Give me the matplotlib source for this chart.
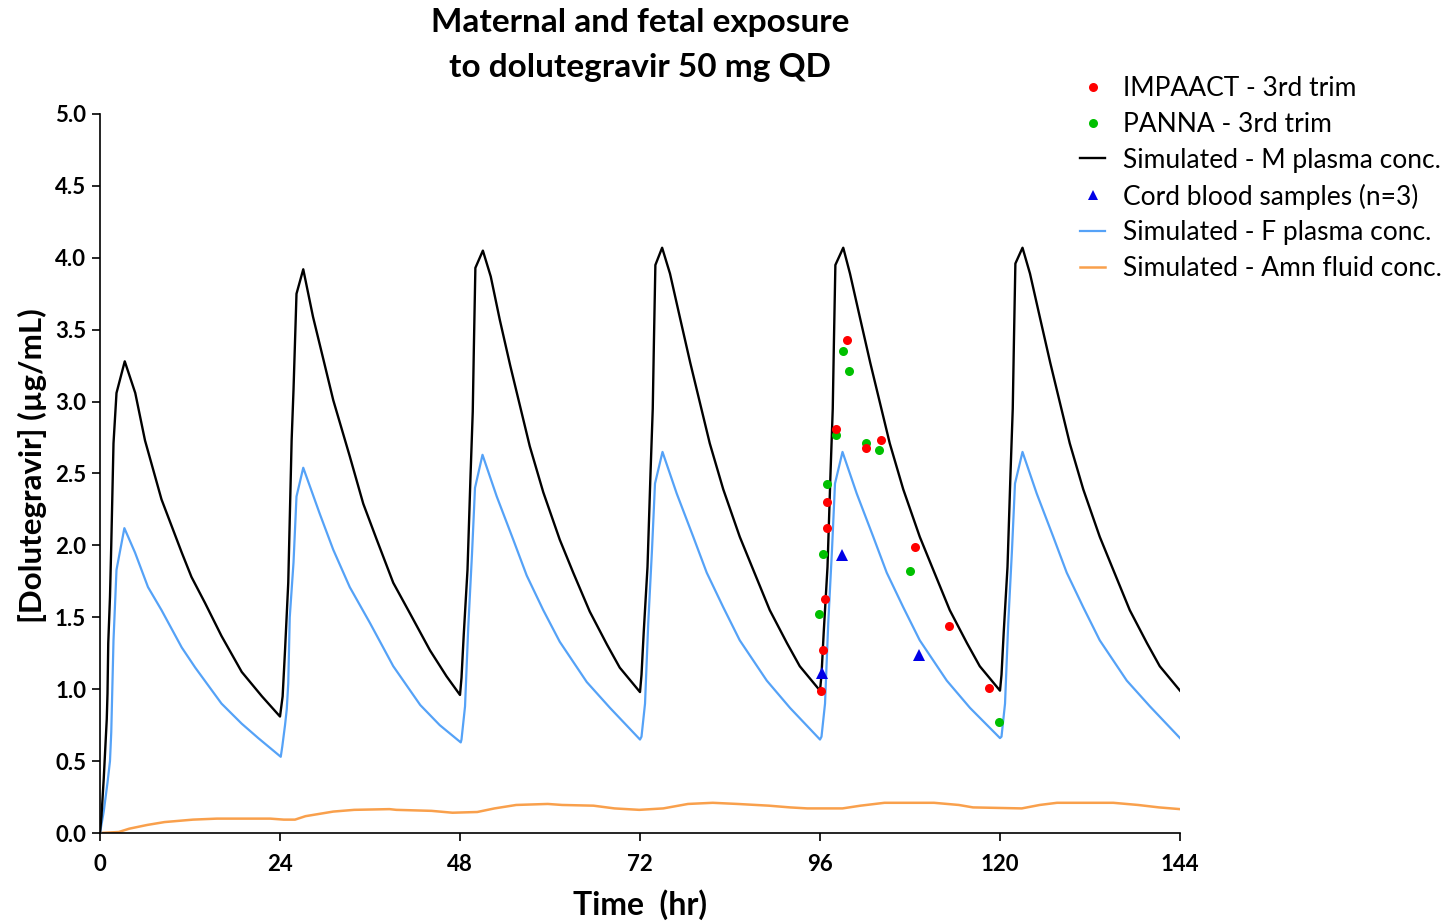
import matplotlib
matplotlib.use("Agg")
import matplotlib.pyplot as plt
from matplotlib.lines import Line2D

plt.rcParams['font.family'] = ['Lato', 'DejaVu Sans']

# ---------------- data ----------------
m_time = [0, 0.2, 0.5, 0.9, 1.0, 1.1, 1.33, 1.5, 1.8, 2.2, 3.3, 4.7, 6.0, 8.2, 10.9, 12.2, 14.0, 16.2, 18.9, 21.6, 24.0,
          24.35, 24.67, 25.1, 25.55, 25.8, 26.2, 27.1, 28.4, 29.8, 31.1, 33.3, 35.1, 36.9, 39.1, 41.3, 44.0, 46.2, 48.0,
          48.2, 48.5, 49.0, 49.4, 49.7, 49.85, 50.05, 51.05, 52.1, 53.3, 54.7, 56.0, 57.3, 59.1, 61.3, 63.1, 65.3, 67.6, 69.3, 72.0,
          72.2, 72.5, 73.0, 73.4, 73.7, 73.85, 74.05, 74.95, 76.0, 77.3, 78.7, 80.0, 81.3, 83.1, 85.3, 87.1, 89.3, 91.6, 93.3, 96.0,
          96.2, 96.5, 97.0, 97.4, 97.7, 97.85, 98.05, 99.1, 100.0, 101.3, 102.7, 104.0, 105.3, 107.1, 109.3, 111.1, 113.3, 115.6, 117.3, 120.0,
          120.2, 120.5, 121.0, 121.4, 121.7, 121.85, 122.05, 123.0, 124.0, 125.3, 126.7, 128.0, 129.3, 131.1, 133.3, 135.1, 137.3, 139.6, 141.3, 144.0]
m_conc = [0, 0.12, 0.38, 0.79, 0.97, 1.32, 1.64, 2.00, 2.71, 3.06, 3.28, 3.06, 2.73, 2.32, 1.95, 1.78, 1.60, 1.37, 1.12, 0.95, 0.81,
          0.95, 1.27, 1.74, 2.73, 3.08, 3.75, 3.92, 3.59, 3.29, 3.01, 2.62, 2.29, 2.04, 1.74, 1.53, 1.27, 1.09, 0.96,
          1.08, 1.38, 1.83, 2.48, 2.93, 3.38, 3.93, 4.05, 3.87, 3.57, 3.25, 2.97, 2.69, 2.37, 2.04, 1.81, 1.54, 1.31, 1.15, 0.98,
          1.10, 1.40, 1.85, 2.50, 2.95, 3.40, 3.95, 4.07, 3.89, 3.59, 3.27, 2.99, 2.71, 2.39, 2.06, 1.83, 1.55, 1.32, 1.16, 0.99,
          1.10, 1.40, 1.85, 2.50, 2.95, 3.40, 3.95, 4.07, 3.89, 3.59, 3.27, 2.99, 2.71, 2.39, 2.06, 1.83, 1.55, 1.32, 1.16, 0.99,
          1.10, 1.40, 1.85, 2.50, 2.95, 3.40, 3.96, 4.07, 3.89, 3.59, 3.27, 2.99, 2.71, 2.39, 2.06, 1.83, 1.55, 1.32, 1.16, 0.99]

f_time = [0, 0.5, 1.0, 1.33, 1.5, 1.8, 2.2, 3.25, 4.67, 6.4, 8.2, 10.9, 12.7, 16.2, 18.9, 21.1, 24.1,
          24.3, 24.67, 24.9, 25.1, 25.3, 25.8, 26.2, 27.1, 29.3, 31.1, 33.3, 36.0, 39.1, 42.7, 45.3, 48.1,
          48.2, 48.67, 49.1, 49.6, 50.0, 51.0, 52.9, 55.1, 56.9, 59.1, 61.3, 64.9, 68.0, 72.0,
          72.2, 72.67, 73.1, 73.6, 74.0, 75.0, 76.9, 79.1, 80.9, 83.1, 85.3, 88.9, 92.0, 96.0,
          96.2, 96.67, 97.1, 97.6, 98.0, 99.0, 100.9, 103.1, 104.9, 107.1, 109.3, 112.9, 116.0, 120.0,
          120.2, 120.67, 121.1, 121.6, 122.0, 123.0, 124.9, 127.1, 128.9, 131.1, 133.3, 136.9, 140.0, 144.0]
f_conc = [0, 0.15, 0.35, 0.50, 0.70, 1.34, 1.83, 2.12, 1.95, 1.71, 1.55, 1.29, 1.15, 0.90, 0.76, 0.66, 0.53,
          0.60, 0.75, 0.86, 1.04, 1.50, 1.88, 2.34, 2.54, 2.22, 1.97, 1.71, 1.46, 1.16, 0.89, 0.75, 0.63,
          0.65, 0.88, 1.43, 1.94, 2.40, 2.63, 2.34, 2.04, 1.79, 1.55, 1.33, 1.05, 0.87, 0.65,
          0.67, 0.90, 1.46, 1.97, 2.43, 2.65, 2.36, 2.06, 1.81, 1.57, 1.34, 1.06, 0.87, 0.65,
          0.67, 0.90, 1.46, 1.97, 2.43, 2.65, 2.36, 2.06, 1.81, 1.57, 1.34, 1.06, 0.87, 0.66,
          0.67, 0.90, 1.46, 1.97, 2.43, 2.65, 2.36, 2.06, 1.81, 1.57, 1.34, 1.06, 0.88, 0.66]

a_time = [0, 2.5, 3.9, 6.3, 8.6, 12.4, 15.6, 22.7, 24.5, 26.0, 27.4, 31.1, 33.9, 38.6, 39.5, 44.2, 47.0, 50.3,
          52.6, 55.5, 59.7, 61.6, 65.8, 68.6, 71.9, 75.1, 78.4, 81.7, 85.0, 89.2, 92.0, 94.3, 99.0, 101.4,
          104.6, 111.2, 114.5, 116.4, 122.9, 125.3, 127.6, 135.1, 138.4, 141.2, 144.0]
a_conc = [0, 0.007, 0.030, 0.056, 0.076, 0.093, 0.100, 0.100, 0.093, 0.093, 0.117, 0.149, 0.161, 0.166, 0.161, 0.154, 0.141, 0.146,
          0.171, 0.195, 0.202, 0.195, 0.190, 0.171, 0.161, 0.171, 0.202, 0.210, 0.202, 0.190, 0.178, 0.171, 0.171, 0.190,
          0.210, 0.210, 0.195, 0.178, 0.171, 0.195, 0.210, 0.210, 0.195, 0.178, 0.166]

impaact_t = [96.1, 96.36, 96.67, 96.97, 96.97, 98.1, 99.6, 102.1, 104.1, 108.7, 113.2, 118.5]
impaact_c = [0.99, 1.27, 1.63, 2.12, 2.30, 2.81, 3.43, 2.68, 2.73, 1.99, 1.44, 1.01]

panna_t = [95.9, 96.36, 96.9, 98.1, 99.0, 99.9, 102.1, 103.9, 108.0, 119.9]
panna_c = [1.52, 1.94, 2.43, 2.77, 3.35, 3.21, 2.71, 2.66, 1.82, 0.77]

cord_t = [96.2, 98.9, 109.2]
cord_c = [1.11, 1.93, 1.24]

x_ticks = [0, 24, 48, 72, 96, 120, 144]
y_ticks = [0.0, 0.5, 1.0, 1.5, 2.0, 2.5, 3.0, 3.5, 4.0, 4.5, 5.0]

labels = ["IMPAACT - 3rd trim", "PANNA - 3rd trim", "Simulated - M plasma conc.",
          "Cord blood samples (n=3)", "Simulated - F plasma conc.", "Simulated - Amn fluid conc."]

# ---------------- styles ----------------
c_black = "#000000"
c_blue = "#55a2f7"
c_orange = "#f9a04c"
c_red = "#ff0000"
c_green = "#00c000"
c_tri = "#0000e6"

fig = plt.figure(figsize=(14.47, 9.22), dpi=100)
ax = fig.add_axes([100 / 1447, 1 - 833 / 922, 1080 / 1447, 719 / 922])

ax.plot(a_time, a_conc, color=c_orange, lw=1.8, zorder=2)
ax.plot(f_time, f_conc, color=c_blue, lw=1.6, zorder=3)
ax.plot(m_time, m_conc, color=c_black, lw=1.7, zorder=4)
ax.plot(impaact_t, impaact_c, 'o', color=c_red, ms=6.5, mew=0, zorder=6)
ax.plot(panna_t, panna_c, 'o', color=c_green, ms=6.5, mew=0, zorder=5)
ax.plot(cord_t, cord_c, '^', color=c_tri, ms=8.5, mew=0, zorder=7)

ax.set_xlim(0, 144)
ax.set_ylim(0, 5)
ax.set_xticks(x_ticks)
ax.set_yticks(y_ticks)
ax.set_xticklabels([str(v) for v in x_ticks])
ax.set_yticklabels([f"{v:.1f}" for v in y_ticks])
for s in ("top", "right"):
    ax.spines[s].set_visible(False)
for s in ("left", "bottom"):
    ax.spines[s].set_linewidth(1.2)
ax.tick_params(direction="out", length=6, width=1.2, labelsize=16)
ax.tick_params(axis="x", pad=9)
ax.tick_params(axis="y", pad=4)
for lab in ax.get_xticklabels() + ax.get_yticklabels():
    lab.set_fontweight("bold")

ax.set_xlabel("Time  (hr)", fontsize=23, fontweight="bold", va="center")
ax.xaxis.set_label_coords(0.5, (833 - 905) / 719)
ax.set_ylabel("[Dolutegravir] (\u00b5g/mL)", fontsize=22.5, fontweight="bold", va="center")
ax.yaxis.set_label_coords((32 - 100) / 1080, (833 - 466) / 719)

fig.text(640 / 1447, 1 - 45 / 922, "Maternal and fetal exposure\nto dolutegravir 50 mg QD",
         ha="center", va="center", fontsize=24, fontweight="bold", linespacing=1.7)

handles = [
    Line2D([], [], ls="none", marker="o", color=c_red, ms=6.5, mew=0),
    Line2D([], [], ls="none", marker="o", color=c_green, ms=6.5, mew=0),
    Line2D([], [], color=c_black, lw=1.7),
    Line2D([], [], ls="none", marker="^", color=c_tri, ms=7.5, mew=0),
    Line2D([], [], color=c_blue, lw=1.6),
    Line2D([], [], color=c_orange, lw=1.8),
]
fig.legend(handles, labels, loc="upper left", bbox_to_anchor=(1080 / 1447, 1 - 76 / 922),
           frameon=False, fontsize=19, handlelength=0.95, handletextpad=0.68,
           labelspacing=0.41, borderpad=0, borderaxespad=0)

fig.savefig("out.png", dpi=100)
